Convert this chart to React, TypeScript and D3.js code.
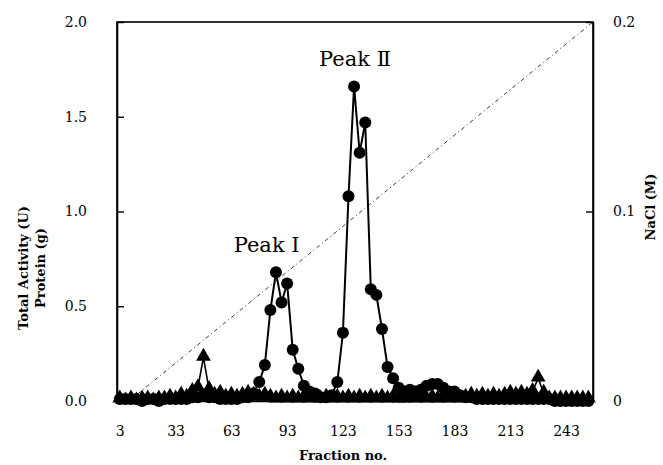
import React, { useEffect, useRef } from "react";
import * as d3 from "d3";

// fraction numbers (every third fraction was assayed)
const fractions = [
  3, 6, 9, 12, 15, 18, 21, 24, 27, 30, 33, 36, 39, 42, 45, 48, 51, 54, 57, 60,
  63, 66, 69, 72, 75, 78, 81, 84, 87, 90, 93, 96, 99, 102, 105, 108, 111, 114,
  117, 120, 123, 126, 129, 132, 135, 138, 141, 144, 147, 150, 153, 156, 159,
  162, 165, 168, 171, 174, 177, 180, 183, 186, 189, 192, 195, 198, 201, 204,
  207, 210, 213, 216, 219, 222, 225, 228, 231, 234, 237, 240, 243, 246, 249,
  252, 255,
];

// filled circles
const activity = [
  0.01, 0.01, 0.01, 0.01, 0.0, 0.01, 0.01, 0.0, 0.01, 0.01, 0.01, 0.01, 0.01,
  0.02, 0.02, 0.03, 0.02, 0.02, 0.01, 0.01, 0.01, 0.01, 0.02, 0.02, 0.04, 0.1,
  0.19, 0.48, 0.68, 0.52, 0.62, 0.27, 0.17, 0.08, 0.05, 0.04, 0.02, 0.02, 0.03,
  0.1, 0.36, 1.08, 1.66, 1.31, 1.47, 0.59, 0.56, 0.38, 0.18, 0.12, 0.07, 0.05,
  0.06, 0.05, 0.06, 0.08, 0.09, 0.09, 0.07, 0.05, 0.05, 0.03, 0.02, 0.02, 0.01,
  0.01, 0.01, 0.01, 0.01, 0.01, 0.01, 0.01, 0.01, 0.01, 0.01, 0.01, 0.01, 0.01,
  0.0, 0.0, 0.0, 0.0, 0.0, 0.0, 0.0,
];

// filled triangles
const protein = [
  0.01, 0.0, 0.01, 0.0, 0.01, 0.01, 0.0, 0.01, 0.01, 0.02, 0.01, 0.03, 0.02,
  0.05, 0.07, 0.23, 0.06, 0.03, 0.04, 0.02, 0.03, 0.02, 0.03, 0.04, 0.03, 0.02,
  0.03, 0.02, 0.01, 0.02, 0.01, 0.02, 0.01, 0.02, 0.01, 0.02, 0.01, 0.02, 0.01,
  0.02, 0.01, 0.02, 0.01, 0.02, 0.01, 0.02, 0.01, 0.02, 0.01, 0.02, 0.01, 0.01,
  0.02, 0.01, 0.02, 0.01, 0.02, 0.01, 0.02, 0.01, 0.02, 0.01, 0.02, 0.03, 0.02,
  0.03, 0.02, 0.03, 0.02, 0.03, 0.04, 0.03, 0.04, 0.03, 0.05, 0.12, 0.04, 0.01,
  0.01, 0.01, 0.01, 0.01, 0.01, 0.01, 0.01,
];

// NaCl linear gradient
const naclFractions = [8, 257.5];
const naclValues = [0, 0.2];

const xTickLabels = [3, 33, 63, 93, 123, 153, 183, 213, 243];
const yLeftTicks = [0, 0.5, 1.0, 1.5, 2.0];
const yRightTicks = [0, 0.1, 0.2];

// label anchors (fraction, value) for the peak annotations
const peaks = [
  { label: "Peak Ⅰ", fraction: 82, value: 0.68 },
  { label: "Peak Ⅱ", fraction: 129.5, value: 1.66 },
];

const font = "'DejaVu Serif', 'Liberation Serif', serif";

const App: React.FC = () => {
  const svgRef = useRef<SVGSVGElement>(null);

  useEffect(() => {
    const margin = { top: 22, right: 70, bottom: 64, left: 117 };
    const W = 663;
    const H = 465;
    const width = W - margin.left - margin.right;
    const height = H - margin.top - margin.bottom;

    const svg = d3.select(svgRef.current);
    svg.selectAll("*").remove();

    const g = svg
      .append("g")
      .attr("transform", `translate(${margin.left},${margin.top})`);

    const x = d3.scaleLinear().domain([1.5, 257.5]).range([0, width]);
    const y = d3.scaleLinear().domain([0, 2]).range([height, 0]);
    const y2 = d3.scaleLinear().domain([0, 0.2]).range([height, 0]);

    // frame
    g.append("rect")
      .attr("width", width)
      .attr("height", height)
      .attr("fill", "none")
      .attr("stroke", "#000")
      .attr("stroke-width", 1.6);

    // left axis
    const yAxis = g
      .append("g")
      .call(
        d3
          .axisLeft(y)
          .tickValues(yLeftTicks)
          .tickFormat(d3.format(".1f"))
          .tickSizeInner(-7)
          .tickSizeOuter(0)
          .tickPadding(30)
      );
    yAxis.select(".domain").attr("stroke-width", 1.6);
    yAxis.selectAll("line").attr("stroke-width", 1.4);
    yAxis
      .selectAll("text")
      .attr("font-family", font)
      .attr("font-size", 14)
      .attr("fill", "#000");

    // right axis
    const yAxis2 = g
      .append("g")
      .attr("transform", `translate(${width},0)`)
      .call(
        d3
          .axisRight(y2)
          .tickValues(yRightTicks)
          .tickFormat((d) => (d === 0 ? "0" : d3.format(".1f")(d as number)))
          .tickSizeInner(-7)
          .tickSizeOuter(0)
          .tickPadding(20)
      );
    yAxis2.select(".domain").attr("stroke-width", 1.6);
    yAxis2.selectAll("line").attr("stroke-width", 1.4);
    yAxis2
      .selectAll("text")
      .attr("font-family", font)
      .attr("font-size", 14)
      .attr("fill", "#000");

    // bottom axis (labels only)
    const xAxis = g
      .append("g")
      .attr("transform", `translate(0,${height})`)
      .call(
        d3
          .axisBottom(x)
          .tickValues(xTickLabels)
          .tickFormat(d3.format("d"))
          .tickSize(0)
          .tickPadding(25)
      );
    xAxis.select(".domain").attr("stroke-width", 1.6);
    xAxis
      .selectAll("text")
      .attr("font-family", font)
      .attr("font-size", 14)
      .attr("fill", "#000");

    // NaCl gradient
    const nacl = naclFractions.map((f, i) => ({ f, v: naclValues[i] }));
    g.append("path")
      .datum(nacl)
      .attr("fill", "none")
      .attr("stroke", "#222")
      .attr("stroke-width", 0.9)
      .attr("stroke-dasharray", "4 3 1 3")
      .attr(
        "d",
        d3
          .line<{ f: number; v: number }>()
          .x((d) => x(d.f))
          .y((d) => y2(d.v))
      );

    // triangles series
    const tri = fractions.map((f, i) => ({ f, v: protein[i] }));
    g.append("path")
      .datum(tri)
      .attr("fill", "none")
      .attr("stroke", "#000")
      .attr("stroke-width", 1.6)
      .attr(
        "d",
        d3
          .line<{ f: number; v: number }>()
          .x((d) => x(d.f))
          .y((d) => y(d.v))
      );
    const triSym = d3.symbol().type(d3.symbolTriangle).size(95);
    g.selectAll(".tri")
      .data(tri)
      .enter()
      .append("path")
      .attr("class", "tri")
      .attr("transform", (d) => `translate(${x(d.f)},${y(d.v) - 1})`)
      .attr("d", triSym() as string)
      .attr("fill", "#000");

    // circles series
    const circ = fractions.map((f, i) => ({ f, v: activity[i] }));
    g.append("path")
      .datum(circ)
      .attr("fill", "none")
      .attr("stroke", "#000")
      .attr("stroke-width", 2)
      .attr(
        "d",
        d3
          .line<{ f: number; v: number }>()
          .x((d) => x(d.f))
          .y((d) => y(d.v))
      );
    g.selectAll(".circ")
      .data(circ)
      .enter()
      .append("circle")
      .attr("class", "circ")
      .attr("cx", (d) => x(d.f))
      .attr("cy", (d) => y(d.v))
      .attr("r", 6)
      .attr("fill", "#000");

    // peak labels
    g.selectAll(".peak")
      .data(peaks)
      .enter()
      .append("text")
      .attr("class", "peak")
      .attr("x", (d) => x(d.fraction))
      .attr("y", (d) => y(d.value) - 20)
      .attr("text-anchor", "middle")
      .attr("font-family", font)
      .attr("font-size", 21)
      .attr("fill", "#000")
      .text((d) => d.label);

    // axis titles
    const leftTitle = svg
      .append("text")
      .attr("transform", "translate(28,268) rotate(-90)")
      .attr("text-anchor", "middle")
      .attr("font-family", font)
      .attr("font-size", 13)
      .attr("font-weight", "bold")
      .attr("fill", "#000");
    leftTitle.append("tspan").attr("x", 0).attr("dy", 0).text("Total Activity (U)");
    leftTitle.append("tspan").attr("x", 0).attr("dy", 17).text("Protein (g)");

    svg
      .append("text")
      .attr("transform", "translate(655,207) rotate(-90)")
      .attr("text-anchor", "middle")
      .attr("font-family", font)
      .attr("font-size", 13)
      .attr("font-weight", "bold")
      .attr("fill", "#000")
      .text("NaCl (M)");

    svg
      .append("text")
      .attr("x", 343)
      .attr("y", 460)
      .attr("text-anchor", "middle")
      .attr("font-family", font)
      .attr("font-size", 13)
      .attr("font-weight", "bold")
      .attr("fill", "#000")
      .text("Fraction no.");
  }, []);

  return (
    <div style={{ position: "absolute", left: 0, top: 0 }}>
      <svg ref={svgRef} width={663} height={465} style={{ background: "#fff" }}></svg>
    </div>
  );
};

export default App;
